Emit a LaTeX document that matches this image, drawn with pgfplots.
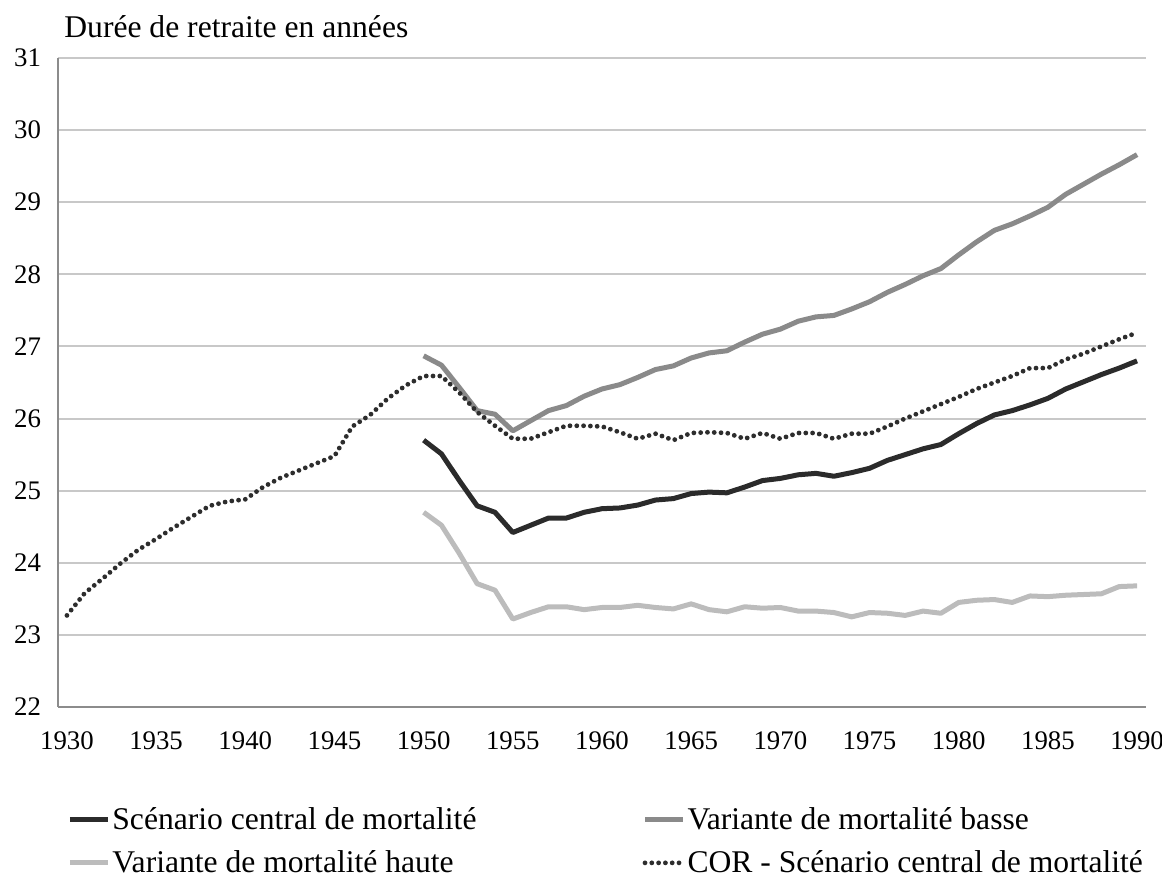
\documentclass[border=0pt]{standalone}
\usepackage{fontspec}
\setmainfont{Liberation Serif}
\usepackage{pgfplots}
\pgfplotsset{compat=1.18}
\definecolor{central}{RGB}{43,43,43}
\definecolor{basse}{RGB}{138,138,138}
\definecolor{haute}{RGB}{188,188,188}
\definecolor{cor}{RGB}{45,45,45}
\definecolor{gridc}{RGB}{200,200,200}
\definecolor{axc}{RGB}{140,140,140}

\begin{document}
\begin{tikzpicture}
% page: 1162x877 px at 0.5pt/px
\useasboundingbox (-29pt,-85pt) rectangle (552pt,353.5pt);
\begin{axis}[
  scale only axis, width=544pt, height=324.5pt,
  xmin=1929.5, xmax=1990.5, ymin=22, ymax=31,
  xtick={1930,1935,...,1990}, ytick={22,...,31},
  /pgf/number format/1000 sep={},
  /pgf/number format/assume math mode=true,
  ticklabel style={font=\fontsize{13.4}{15}\selectfont},
  xticklabel style={yshift=-9pt},
  yticklabel style={xshift=-5pt},
  axis x line*=bottom, axis y line*=left,
  axis line style={draw=axc, line width=1pt, -},
  major tick length=0pt,
  ymajorgrids, grid style={draw=gridc, line width=1pt},
  clip=false,
  legend columns=2,
  legend cell align=left,
  legend style={at={(rel axis cs:0,0)}, anchor=north west, xshift=4.5pt, yshift=-49pt,
    draw=none, fill=none, font=\fontsize{15.8}{18}\selectfont,
    row sep=7pt, column sep=0pt, inner sep=0pt,
    nodes={inner xsep=1pt, inner ysep=1pt}},
  /tikz/every even column/.append style={column sep=82pt},
  legend image code/.code={\draw[#1] (0pt,0pt) -- (19pt,0pt);},
  every axis plot/.append style={line join=round},
]
\node[anchor=base west, font=\fontsize{15.8}{18}\selectfont, inner sep=0pt]
  at (rel axis cs:0,1) [xshift=3pt, yshift=10pt] {Durée de retraite en années};

\addplot[central, line width=2.5pt] coordinates {
(1950,25.70)(1951,25.51)(1952,25.14)(1953,24.79)(1954,24.70)(1955,24.42)
(1956,24.52)(1957,24.62)(1958,24.62)(1959,24.70)(1960,24.75)(1961,24.76)
(1962,24.80)(1963,24.87)(1964,24.89)(1965,24.96)(1966,24.98)(1967,24.97)
(1968,25.05)(1969,25.14)(1970,25.17)(1971,25.22)(1972,25.24)(1973,25.20)
(1974,25.25)(1975,25.31)(1976,25.42)(1977,25.50)(1978,25.58)(1979,25.64)
(1980,25.79)(1981,25.93)(1982,26.05)(1983,26.11)(1984,26.19)(1985,26.28)
(1986,26.41)(1987,26.51)(1988,26.61)(1989,26.70)(1990,26.80)};
\addlegendentry{Scénario central de mortalité}

\addplot[basse, line width=2.5pt] coordinates {
(1950,26.87)(1951,26.74)(1952,26.43)(1953,26.11)(1954,26.06)(1955,25.83)
(1956,25.97)(1957,26.11)(1958,26.18)(1959,26.31)(1960,26.41)(1961,26.47)
(1962,26.57)(1963,26.68)(1964,26.73)(1965,26.84)(1966,26.91)(1967,26.94)
(1968,27.06)(1969,27.17)(1970,27.24)(1971,27.35)(1972,27.41)(1973,27.43)
(1974,27.52)(1975,27.62)(1976,27.75)(1977,27.86)(1978,27.98)(1979,28.08)
(1980,28.27)(1981,28.45)(1982,28.61)(1983,28.70)(1984,28.81)(1985,28.93)
(1986,29.11)(1987,29.25)(1988,29.39)(1989,29.52)(1990,29.66)};
\addlegendentry{Variante de mortalité basse}

\addplot[haute, line width=2.5pt] coordinates {
(1950,24.70)(1951,24.52)(1952,24.13)(1953,23.71)(1954,23.62)(1955,23.22)
(1956,23.31)(1957,23.39)(1958,23.39)(1959,23.35)(1960,23.38)(1961,23.38)
(1962,23.41)(1963,23.38)(1964,23.36)(1965,23.43)(1966,23.35)(1967,23.32)
(1968,23.39)(1969,23.37)(1970,23.38)(1971,23.33)(1972,23.33)(1973,23.31)
(1974,23.25)(1975,23.31)(1976,23.30)(1977,23.27)(1978,23.33)(1979,23.30)
(1980,23.45)(1981,23.48)(1982,23.49)(1983,23.45)(1984,23.54)(1985,23.53)
(1986,23.55)(1987,23.56)(1988,23.57)(1989,23.67)(1990,23.68)};
\addlegendentry{Variante de mortalité haute}

\addplot[cor, line width=2.4pt, line cap=round, dash pattern=on 0pt off 3.4pt] coordinates {
(1930,23.27)(1931,23.58)(1932,23.78)(1933,23.99)(1934,24.18)(1935,24.33)
(1936,24.49)(1937,24.64)(1938,24.79)(1939,24.85)(1940,24.88)(1941,25.05)
(1942,25.18)(1943,25.28)(1944,25.38)(1945,25.48)(1946,25.89)(1947,26.05)
(1948,26.28)(1949,26.46)(1950,26.59)(1951,26.59)(1952,26.36)(1953,26.09)
(1954,25.90)(1955,25.72)(1956,25.72)(1957,25.81)(1958,25.90)(1959,25.90)
(1960,25.89)(1961,25.81)(1962,25.72)(1963,25.79)(1964,25.70)(1965,25.80)
(1966,25.81)(1967,25.80)(1968,25.72)(1969,25.80)(1970,25.72)(1971,25.80)
(1972,25.80)(1973,25.72)(1974,25.79)(1975,25.79)(1976,25.89)(1977,26.00)
(1978,26.10)(1979,26.20)(1980,26.30)(1981,26.41)(1982,26.50)(1983,26.59)
(1984,26.70)(1985,26.70)(1986,26.82)(1987,26.90)(1988,27.00)(1989,27.10)
(1990,27.19)};
\addlegendentry{COR - Scénario central de mortalité}
\end{axis}
\end{tikzpicture}
\end{document}
